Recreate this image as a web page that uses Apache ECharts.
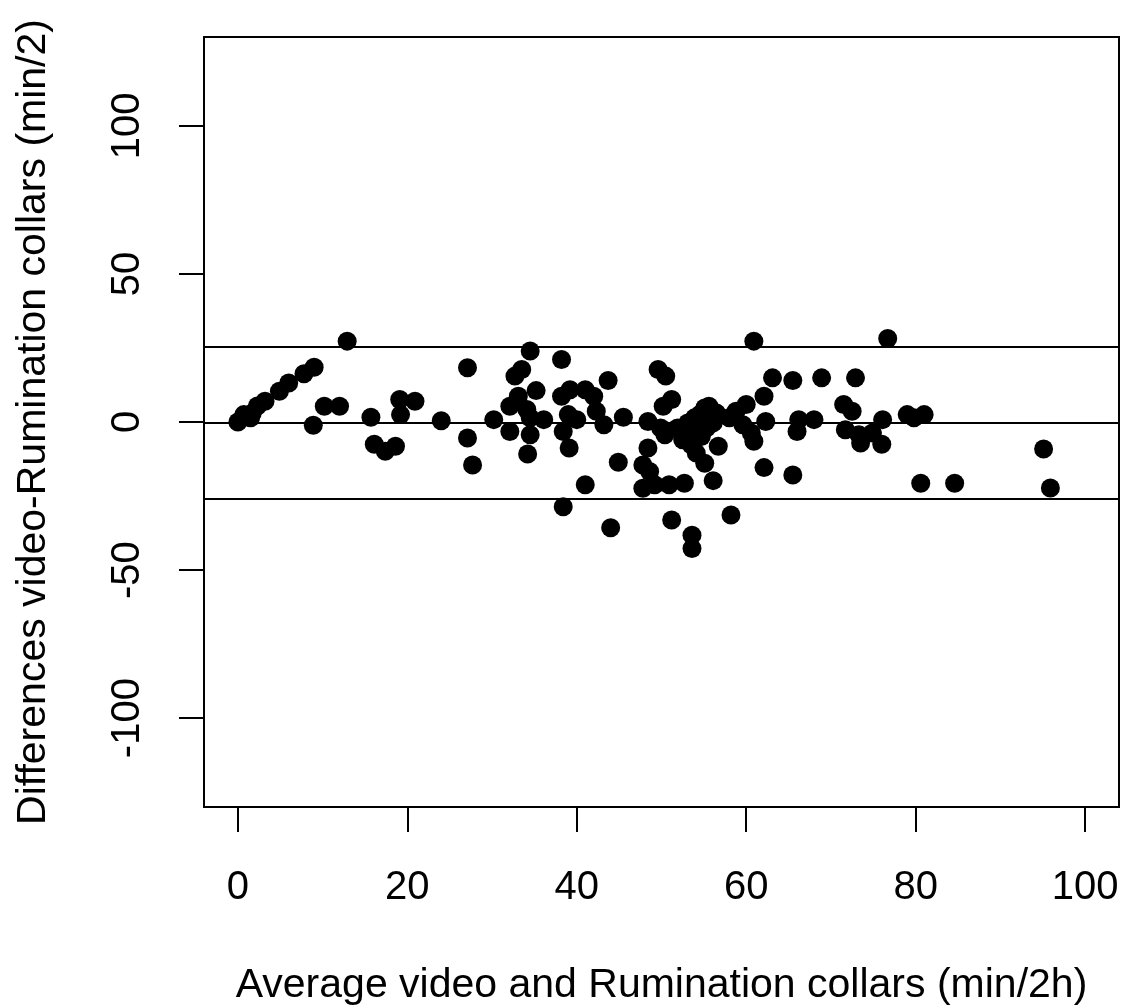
<!DOCTYPE html>
<html>
<head>
<meta charset="utf-8">
<script src="https://cdn.jsdelivr.net/npm/echarts@6/dist/echarts.min.js"></script>
<style>
html,body{margin:0;padding:0;background:#fff;}
#chart{width:1122px;height:1007px;}
</style>
</head>
<body>
<div id="chart"></div>
<script>
// Average (x) values
var avgValues = [
  0, 0.7, 1.5, 1.7, 2.3, 3.2, 4.9, 6.0, 7.8, 9.0, 12.9, 8.9, 10.2, 12.0, 15.7, 16.1, 17.4, 18.6, 19.1, 19.2, 20.9, 24.0,
  27.1, 27.1, 27.7, 30.2, 34.5, 32.7, 33.5, 32.1, 33.1, 34.1, 35.2, 34.5, 36.1, 32.1, 34.5, 34.2, 38.2, 38.2, 39.2, 38.4, 39.1, 39.0, 40.0, 41.0, 42.0, 42.3, 43.2, 43.7, 45.5, 41.0, 38.4, 44.0, 44.9, 47.8, 47.8, 48.4, 48.4,
  49.6, 50.5, 50.2, 51.2, 50.4, 48.6, 49.2, 50.9, 52.7, 51.2, 53.6, 53.6, 58.2, 56.1, 55.1, 56.7,
  52.7, 53.7, 54.5, 55.6, 56.5, 53.5, 54.1, 55.3, 54.7, 52.5, 56.1, 53.9, 55.1, 53.1, 51.9, 49.9,
  60.9, 58.0, 58.8, 60.0, 59.6, 60.6, 60.9, 62.1, 62.3, 63.1, 65.5, 68.9, 62.1, 65.5, 66.2, 66.0, 68.0, 71.5, 71.7,
  76.7, 72.9, 72.5, 73.3, 73.5, 74.9, 76.1, 76.0, 79.0, 79.8, 81.0, 80.6, 84.6, 95.1, 95.9
];
// Difference (y) values
var diffValues = [
  0, 2.5, 1.4, 3.0, 5.4, 7.0, 10.4, 13.2, 16.3, 18.5, 27.3, -1.1, 5.3, 5.3, 1.6, -7.5, -9.9, -8.2, 7.6, 2.5, 7.0, 0.4,
  18.3, -5.4, -14.5, 0.8, 24.0, 15.5, 17.7, 5.3, 8.7, 4.2, 10.6, 1.4, 0.8, -3.2, -4.3, -10.8, 21.1, 8.7, 10.9, -3.2, -8.8, 2.5, 0.8, 10.9, 8.7, 3.6, -0.9, 14.0, 1.6, -21.2, -28.6, -35.7, -13.6, -14.5, -22.4, -8.8, 0.2,
  17.7, 15.5, 5.3, 7.6, -4.3, -16.7, -21.2, -21.2, -20.7, -33.1, -38.2, -42.7, -31.4, -19.8, -13.9, -8.2,
  -3.2, -0.9, 2.5, 5.3, 3.0, -7.7, -10.5, -2.0, -4.9, -6.0, -0.3, 1.4, 4.7, -0.3, -2.0, -2.0,
  27.3, 1.4, 3.6, 5.9, -0.9, -3.7, -6.5, 8.7, 0.2, 14.9, 14.0, 14.9, -15.4, -17.9, 0.8, -3.2, 0.8, 5.9, -2.6,
  28.2, 14.9, 3.6, -4.3, -7.1, -3.7, 0.8, -7.5, 2.5, 1.4, 2.5, -20.7, -20.7, -9.1, -22.3
];
// Mean difference and limits of agreement
var agreementLines = [25.3, -0.3, -25.9];
// Tick labels
var xTicks = [0, 20, 40, 60, 80, 100];
var yTicks = [-100, -50, 0, 50, 100];

var xTitle = 'Average video and Rumination collars (min/2h)';
var yTitle = 'Differences video-Rumination collars (min/2)';

var points = avgValues.map(function (x, i) { return [x, diffValues[i]]; });

var FONT = '"Liberation Sans", Arial, sans-serif';
var chart = echarts.init(document.getElementById('chart'), null, {renderer: 'canvas'});
chart.setOption({
  animation: false,
  backgroundColor: '#ffffff',
  grid: {
    left: 204, right: 3, top: 37, bottom: 200,
    containLabel: false, outerBoundsMode: 'none',
    show: true, borderColor: '#000', borderWidth: 2, backgroundColor: 'transparent'
  },
  xAxis: {
    type: 'value', min: -4, max: 104,
    splitLine: {show: false},
    axisLine: {show: false, onZero: false},
    axisTick: {show: true, length: 25, customValues: xTicks, lineStyle: {color: '#000', width: 2}},
    axisLabel: {customValues: xTicks, color: '#000', fontSize: 40, fontFamily: FONT, margin: 61},
    name: xTitle, nameLocation: 'middle', nameGap: 158,
    nameTextStyle: {color: '#000', fontSize: 41, fontFamily: FONT}
  },
  yAxis: {
    type: 'value', min: -130, max: 130,
    splitLine: {show: false},
    axisLine: {show: false, onZero: false},
    axisTick: {show: true, length: 25, customValues: yTicks, lineStyle: {color: '#000', width: 2}},
    axisLabel: {customValues: yTicks, color: '#000', fontSize: 40, fontFamily: FONT, rotate: 90, margin: 56},
    name: yTitle, nameLocation: 'middle', nameGap: 150,
    nameTextStyle: {color: '#000', fontSize: 41, fontFamily: FONT}
  },
  series: [{
    type: 'scatter',
    data: points,
    symbol: 'circle',
    symbolSize: 19,
    itemStyle: {color: '#000', opacity: 1},
    markLine: {
      silent: true,
      symbol: ['none', 'none'],
      label: {show: false},
      lineStyle: {color: '#000', width: 2, type: 'solid'},
      data: agreementLines.map(function (v) { return {yAxis: v}; })
    }
  }]
});
</script>
</body>
</html>
